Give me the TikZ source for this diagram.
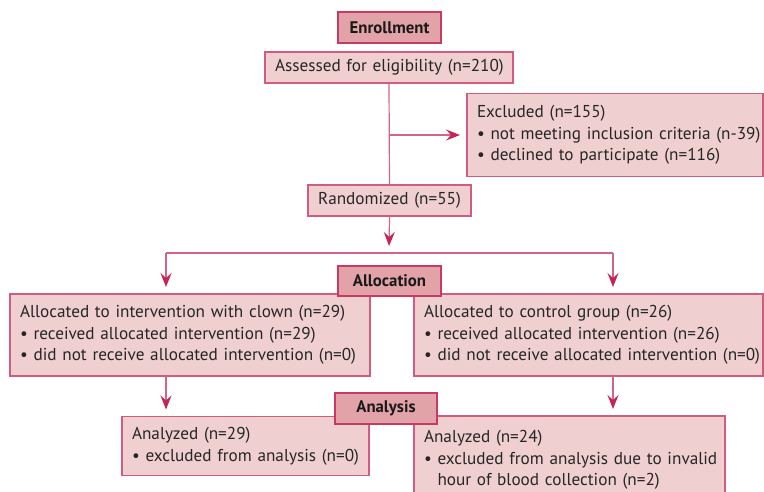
\documentclass[tikz,border=0pt]{standalone}
\usepackage{fontspec}
\setmainfont{PT Sans}
\usetikzlibrary{arrows.meta}
\definecolor{boxfill}{HTML}{EFCFCF}
\definecolor{boxline}{HTML}{D25C80}
\definecolor{hdrfill}{HTML}{E2A3A8}
\definecolor{hdrline}{HTML}{C83A62}
\definecolor{conn}{HTML}{D2648A}
\definecolor{tipcol}{HTML}{C42554}
\newcommand{\boxfont}{\fontsize{17.2}{21.7}\selectfont}
\newcommand{\hdrfont}{\fontsize{16.8}{21.5}\selectfont\bfseries}
\newcommand{\bul}{\textbullet\ }
\newcommand{\Lx}[1]{\mbox{#1}}
\tikzset{
  box/.style={draw=boxline, fill=boxfill, line width=1.2pt, inner xsep=10pt, inner ysep=0pt,
    outer sep=0pt, align=left, font=\boxfont, text=black!85},
  hdr/.style={draw=hdrline, fill=hdrfill, line width=1.2pt, inner sep=0pt, outer sep=0pt,
    font=\hdrfont, text=black!90},
  conn/.style={draw=conn, line width=1.2pt},
  arr/.style={conn, -{Stealth[length=14pt,width=11pt,inset=5pt,color=tipcol]}, shorten >=7pt},
}
\begin{document}
\begin{tikzpicture}[x=1pt,y=-1pt]
\useasboundingbox (0,0) rectangle (764,492);
% boxes
\node[hdr, minimum width=103pt, minimum height=31pt] (enroll) at (389.5,27.5) {Enrollment};
\node[box, text width=228pt, minimum height=31pt, align=center] (assess) at (389,67.5) {\Lx{Assessed for eligibility (n=210)}};
\node[box, text width=276pt, minimum height=83pt] (excl) at (615,135) {\Lx{Excluded (n=155)}\\\Lx{\bul not meeting inclusion criteria (n-39)}\\\Lx{\bul declined to participate (n=116)}};
\node[box, text width=143pt, minimum height=31pt, align=center] (rand) at (389.5,200.5) {\Lx{Randomized (n=55)}};
\node[box, text width=340pt, minimum height=82pt] (allocL) at (190,335) {\Lx{Allocated to intervention with clown (n=29)}\\\Lx{\bul received allocated intervention (n=29)}\\\Lx{\bul did not receive allocated intervention (n=0)}};
\node[box, text width=329pt, minimum height=82pt] (allocR) at (588.5,335) {\Lx{Allocated to control group (n=26)}\\\Lx{\bul received allocated intervention (n=26)}\\\Lx{\bul did not receive allocated intervention (n=0)}};
\node[hdr, minimum width=103pt, minimum height=30pt] (allocH) at (389.5,281) {Allocation};
\node[box, text width=227pt, minimum height=59pt] (anL) at (245.5,446) {\Lx{Analyzed (n=29)}\\\Lx{\bul excluded from analysis (n=0)}};
\node[box, text width=291pt, minimum height=88pt] (anR) at (569.5,460) {\Lx{Analyzed (n=24)}\\\Lx{\bul excluded from analysis due to invalid}\\\Lx{\hphantom{\bul}hour of blood collection (n=2)}};
\node[hdr, minimum width=102pt, minimum height=31pt] (anH) at (386,408.5) {Analysis};
% connectors
\coordinate (split) at (389,253);
\coordinate (jl) at (166,253);
\coordinate (jr) at (613,253);
\draw[conn] (assess.south) -- (rand.north);
\draw[arr] (assess.south |- excl.west) -- (excl.west);
\draw[arr] (rand.south) -- (split);
\draw[conn] (jl) -- (jr);
\draw[arr] (jl) -- (jl |- allocL.north);
\draw[arr] (jr) -- (jr |- allocR.north);
\draw[arr] (jl |- allocL.south) -- (jl |- anL.north);
\draw[arr] (jr |- allocR.south) -- (jr |- anR.north);
\end{tikzpicture}
\end{document}
